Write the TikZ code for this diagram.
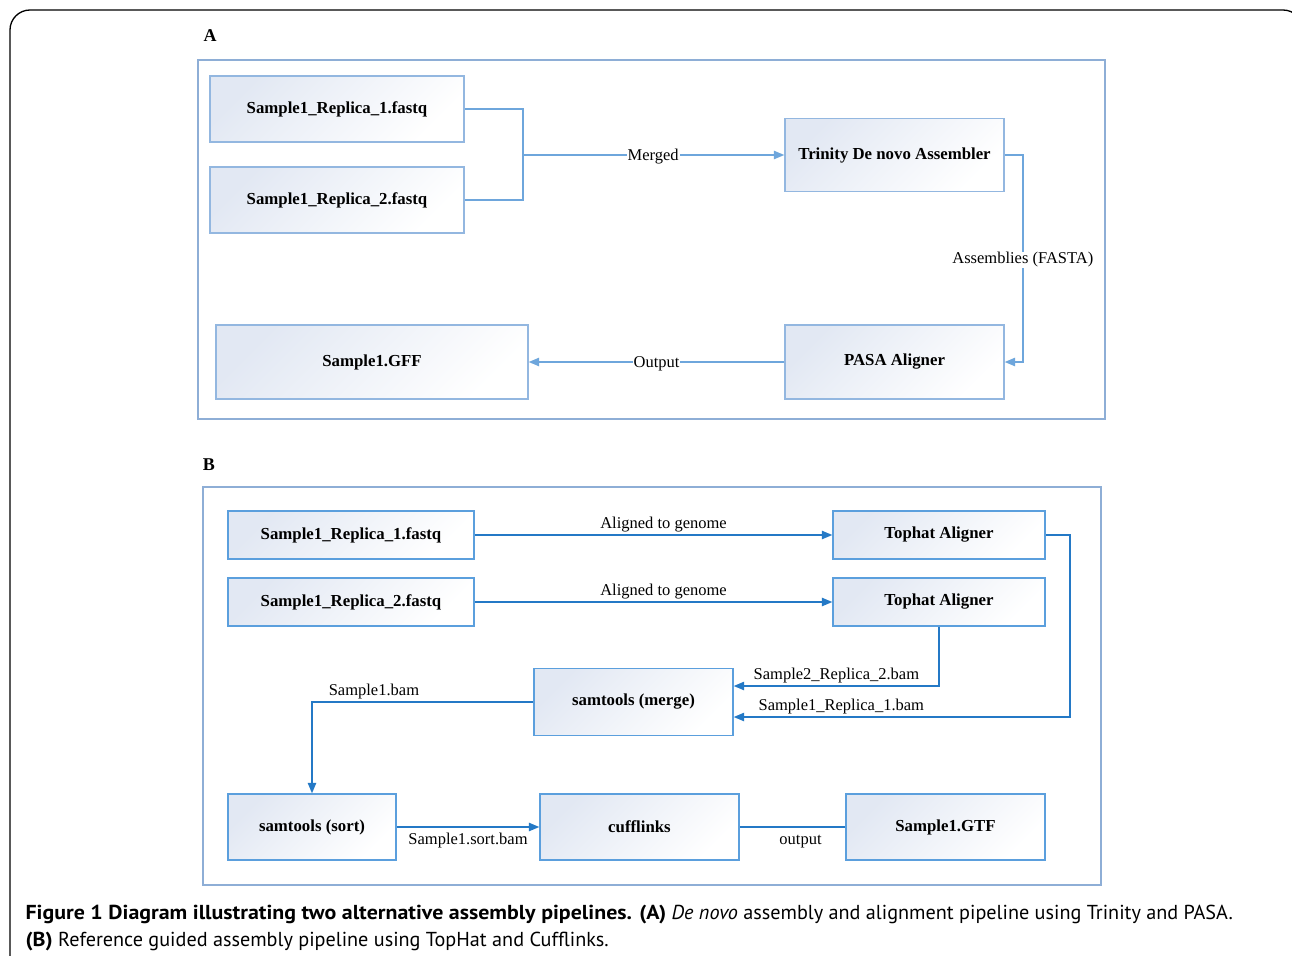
\documentclass[tikz,border=0pt]{standalone}
\usepackage{fontspec}
\setmainfont{Liberation Serif}
\newfontfamily\capfont[BoldFeatures={FakeStretch=1.085}]{PT Sans}
\usepackage{tikz}
\usetikzlibrary{arrows,positioning}
\definecolor{frameA}{HTML}{8EAED6}
\definecolor{boxA}{HTML}{93B7E0}
\definecolor{lineA}{HTML}{6EA6DC}
\definecolor{boxB}{HTML}{5B9FDD}
\definecolor{lineB}{HTML}{2479C6}
\definecolor{shadeTL}{HTML}{E2E8F3}
\tikzset{
  boxa/.style={draw=boxA,line width=1.6pt,top color=shadeTL,bottom color=white,shading angle=45,
    inner sep=0pt,font=\fontsize{16.8}{18}\selectfont\bfseries},
  boxb/.style={boxa,draw=boxB},
  lbl/.style={fill=white,inner sep=1pt,yshift=-1.5pt,font=\fontsize{16.5}{18}\selectfont},
  lblb/.style={inner sep=2pt,font=\fontsize{16.5}{18}\selectfont},
  arrA/.style={draw=lineA,line width=1.4pt,-triangle 45},
  lineA/.style={draw=lineA,line width=1.4pt},
  arrB/.style={draw=lineB,line width=1.4pt,-triangle 45},
  lineB/.style={draw=lineB,line width=1.4pt}
}
\begin{document}
\begin{tikzpicture}[x=1pt,y=-1pt]
      \clip (0,0) rectangle (1292,955);
      \fill[white] (0,0) rectangle (1292,955);
      \draw[line width=1.3pt,rounded corners=20pt] (10,990) -- (10,10) -- (1303,10) -- (1303,990);
      % panel A
      \node[font=\fontsize{18}{20}\selectfont\bfseries] at (210,36) {A};
      \draw[frameA,line width=1.4pt] (198,60) rectangle (1105,419);
      \node[boxa,minimum width=254,minimum height=66] (r1) at (337,109) {Sample1\_Replica\_1.fastq};
      \node[boxa,minimum width=254,minimum height=66] (r2) at (337,200) {Sample1\_Replica\_2.fastq};
      \node[boxa,minimum width=219,minimum height=73] (trin) at (894.5,155) {Trinity De novo Assembler};
      \node[boxa,minimum width=219,minimum height=74] (pasa) at (894.5,362) {PASA Aligner};
      \node[boxa,minimum width=312,minimum height=74] (gff) at (372,362) {Sample1.GFF};
      \draw[lineA] (r1.east) -- ++(58,0) |- (r2.east);
      \coordinate (jn) at (522,155);
      \draw[arrA] (jn) -- node[lbl]{Merged} (trin.west);
      \draw[arrA] (trin.east) -- ++(18,0) |- node[lbl,pos=0.25]{Assemblies (FASTA)} (pasa.east);
      \draw[arrA] (pasa.west) -- node[lbl]{Output} (gff.east);
      % panel B
      \node[font=\fontsize{18}{20}\selectfont\bfseries] at (209,465) {B};
      \draw[frameA,line width=1.4pt] (203,487) rectangle (1101,885);
      \node[boxb,minimum width=246,minimum height=48] (b1) at (351,535) {Sample1\_Replica\_1.fastq};
      \node[boxb,minimum width=246,minimum height=48] (b2) at (351,602) {Sample1\_Replica\_2.fastq};
      \node[boxb,minimum width=212,minimum height=48] (t1) at (939,535) {Tophat Aligner};
      \node[boxb,minimum width=212,minimum height=48] (t2) at (939,602) {Tophat Aligner};
      \node[boxb,minimum width=199,minimum height=67] (mrg) at (633.5,702) {samtools (merge)};
      \node[boxb,minimum width=168,minimum height=66] (srt) at (312,827) {samtools (sort)};
      \node[boxb,minimum width=199,minimum height=66] (cuf) at (639.5,827) {cufflinks};
      \node[boxb,minimum width=199,minimum height=66] (gtf) at (945.5,827) {Sample1.GTF};
      \draw[arrB] (b1.east) -- node[lblb,above,xshift=10pt]{Aligned to genome} (t1.west);
      \draw[arrB] (b2.east) -- node[lblb,above,xshift=10pt]{Aligned to genome} (t2.west);
      \draw[arrB] (t2.south) |- node[lblb,above,pos=0.75]{Sample2\_Replica\_2.bam} ([yshift=16pt]mrg.east);
      \draw[arrB] (t1.east) -- ++(24,0) |- node[lblb,above,pos=0.84]{Sample1\_Replica\_1.bam} ([yshift=-15pt]mrg.east);
      \draw[arrB] (mrg.west) -| node[lblb,above,pos=0.36]{Sample1.bam} (srt.north);
      \draw[arrB] (srt.east) -- node[lblb,below,yshift=-3pt]{Sample1.sort.bam} (cuf.west);
      \draw[lineB] (cuf.east) -- node[lblb,below,xshift=8pt,yshift=-5pt]{output} (gtf.west);
      % caption
      \node[anchor=west,font=\capfont\fontsize{20.2}{22}\selectfont] (cap1) at (22,915)
        {\textbf{Figure 1 Diagram illustrating two alternative assembly pipelines. (A)} \textit{De novo} assembly and alignment pipeline using Trinity and PASA.};
      \node[anchor=west,font=\capfont\fontsize{20.2}{22}\selectfont] (cap2) at (22,942)
        {\textbf{(B)} Reference guided assembly pipeline using TopHat and Cufflinks.};
    \end{tikzpicture}
\end{document}
